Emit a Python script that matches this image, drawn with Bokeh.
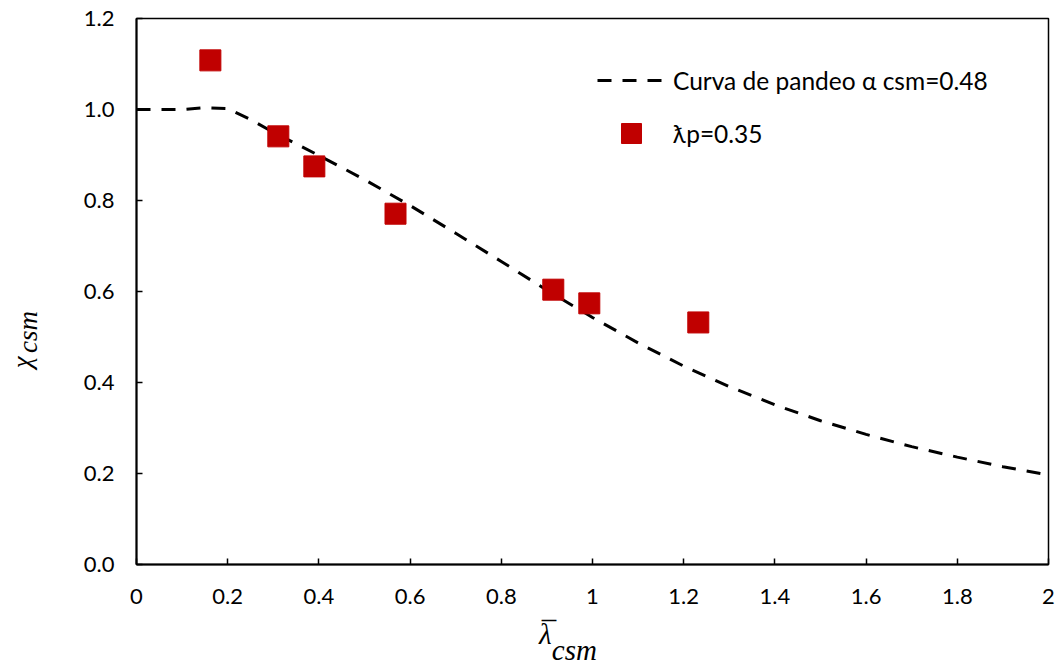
from bokeh.plotting import figure
from bokeh.models import (Range1d, FixedTicker, PrintfTickFormatter, Legend, LegendItem)
from bokeh.embed import file_html
from bokeh.resources import INLINE

# ---- data ----
curve_x = [0.0, 0.1, 0.15, 0.2, 0.25, 0.3, 0.4, 0.5, 0.6, 0.7, 0.8, 0.9, 1.0,
           1.1, 1.2, 1.3, 1.4, 1.5, 1.6, 1.7, 1.8, 1.9, 2.0]
curve_y = [1.000, 1.000, 1.004, 1.002, 0.978, 0.950, 0.899, 0.846, 0.789, 0.728,
           0.666, 0.603, 0.543, 0.487, 0.436, 0.391, 0.351, 0.316, 0.286, 0.259,
           0.236, 0.215, 0.197]

pts_x = [0.162, 0.311, 0.390, 0.568, 0.914, 0.993, 1.232]
pts_y = [1.108, 0.941, 0.875, 0.771, 0.604, 0.574, 0.532]

x_ticks = [0, 0.2, 0.4, 0.6, 0.8, 1, 1.2, 1.4, 1.6, 1.8, 2]
x_tick_labels = ["0", "0.2", "0.4", "0.6", "0.8", "1", "1.2", "1.4", "1.6", "1.8", "2"]
y_ticks = [0, 0.2, 0.4, 0.6, 0.8, 1.0, 1.2]

curve_label = "Curva de pandeo α csm=0.48"
pts_label = "ƛp=0.35"

NB = "\u00a0"
# λ̄_csm : bar line, symbol line, subscript line
x_title = "–" + NB * 12 + "\n" + "λ" + NB * 13 + "\n" + "csm" + NB * 5
# χ_csm
y_title = "χ" + NB * 21 + "\n" + "csm" + NB * 12

TICK_FONT = "Lato"
MATH_FONT = "Liberation Serif"

p = figure(width=1055, height=670, output_backend="svg", toolbar_location=None,
           x_range=Range1d(0, 2), y_range=Range1d(0, 1.2),
           min_border_left=136, min_border_right=7, min_border_top=18, min_border_bottom=106)

p.grid.visible = False
p.outline_line_color = "black"
p.outline_line_width = 1.5

for ax in (p.xaxis[0], p.yaxis[0]):
    ax.axis_line_color = "black"
    ax.axis_line_width = 2
    ax.major_tick_in = 6
    ax.major_tick_out = 0
    ax.major_tick_line_color = "black"
    ax.major_tick_line_width = 1.5
    ax.minor_tick_line_color = None
    ax.major_label_text_font = TICK_FONT
    ax.major_label_text_font_size = "22px"
    ax.major_label_text_color = "black"
    ax.axis_label_text_font = MATH_FONT
    ax.axis_label_text_font_style = "italic"
    ax.axis_label_text_color = "black"

p.xaxis.ticker = FixedTicker(ticks=x_ticks)
p.xaxis.major_label_overrides = {t: l for t, l in zip(x_ticks, x_tick_labels)}
p.xaxis.major_label_standoff = 24
p.xaxis.axis_label = x_title
p.xaxis.axis_label_text_font_size = "29px"
p.xaxis.axis_label_text_line_height = 0.5
p.xaxis.axis_label_standoff = -5

p.yaxis.ticker = FixedTicker(ticks=y_ticks)
p.yaxis.formatter = PrintfTickFormatter(format="%.1f")
p.yaxis.major_label_standoff = 22
p.yaxis.axis_label = y_title
p.yaxis.axis_label_text_font_size = "27px"
p.yaxis.axis_label_text_line_height = 0.2
p.yaxis.axis_label_standoff = 38

line_r = p.line(curve_x, curve_y, line_color="black", line_width=3, line_dash="14 11")
pts_r = p.scatter(pts_x, pts_y, marker="square", size=21, fill_color="#C00000",
                  line_color="#C00000")

legend = Legend(items=[LegendItem(label=curve_label, renderers=[line_r]),
                       LegendItem(label=pts_label, renderers=[pts_r])],
                location=(461, 406), glyph_width=68, glyph_height=50, label_height=50,
                spacing=3, padding=0, margin=0, label_standoff=8,
                border_line_color=None, background_fill_alpha=0,
                label_text_font=TICK_FONT, label_text_font_size="24.5px",
                label_text_color="black")
p.add_layout(legend, "center")

open("out.html", "w").write(file_html(p, INLINE))
